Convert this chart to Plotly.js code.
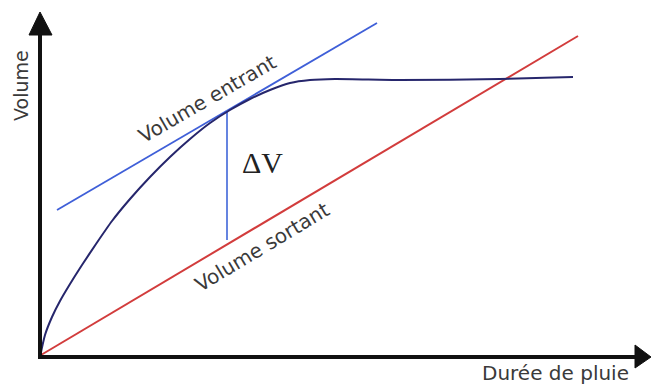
<!DOCTYPE html>
<html>
<head>
<meta charset="utf-8">
<script src="https://cdn.plot.ly/plotly-3.0.1.min.js"></script>
<style>html,body{margin:0;padding:0;background:#fff;}#chart{width:651px;height:385px;}</style>
</head>
<body>
<div id="chart"></div>
<script>
// Durée de pluie (arbitrary units) and volumes
var dureeCourbe  = [0, 5, 12, 20, 30, 42, 56, 72, 90, 110, 130, 150, 170, 190, 210, 230, 250, 270, 295, 360, 460, 533];
var volumeCourbe = [0, 22, 40, 56, 73, 92, 113, 136, 158, 180, 200, 218, 234, 247, 258, 267, 274, 277, 278, 277, 278, 280];

var dureeSortant  = [1, 538];
var volumeSortant = [2, 321];

var dureeEntrant  = [17, 337];
var volumeEntrant = [147, 334];

var dureeDelta  = [187, 187];
var volumeDelta = [117, 247];

var labelY = "Volume";
var labelX = "Durée de pluie";
var labelEntrant = "Volume entrant";
var labelSortant = "Volume sortant";
var labelDelta = "ΔV";

var traces = [
  {x: dureeSortant, y: volumeSortant, mode: "lines", line: {color: "#d23c3c", width: 2}, hoverinfo: "skip"},
  {x: dureeEntrant, y: volumeEntrant, mode: "lines", line: {color: "#3f5fd8", width: 1.8}, hoverinfo: "skip"},
  {x: dureeDelta, y: volumeDelta, mode: "lines", line: {color: "#5577dd", width: 1.8}, hoverinfo: "skip"},
  {x: dureeCourbe, y: volumeCourbe, mode: "lines", line: {color: "#26266c", width: 2, shape: "spline", smoothing: 0.6}, hoverinfo: "skip"}
];

var lab = {family: "DejaVu Sans, sans-serif", size: 20, color: "#3a3a3a"};

var layout = {
  width: 651, height: 385,
  margin: {l: 0, r: 0, t: 0, b: 0, pad: 0},
  paper_bgcolor: "#ffffff", plot_bgcolor: "#ffffff",
  showlegend: false,
  xaxis: {range: [-40, 611], visible: false, fixedrange: true},
  yaxis: {range: [-28, 357], visible: false, fixedrange: true},
  shapes: [
    {type: "line", xref: "x", yref: "y", x0: 0, y0: -2, x1: 0, y1: 324, line: {color: "#111", width: 4}},
    {type: "line", xref: "x", yref: "y", x0: -2, y0: 0, x1: 597, y1: 0, line: {color: "#111", width: 4}},
    {type: "path", xref: "x", yref: "y", path: "M -11,322 L 0,345 L 12,322 Z", fillcolor: "#111", line: {color: "#111", width: 1}},
    {type: "path", xref: "x", yref: "y", path: "M 595,12 L 611,0 L 595,-11 Z", fillcolor: "#111", line: {color: "#111", width: 1}}
  ],
  annotations: [
    {x: -19, y: 271, xref: "x", yref: "y", text: labelY, showarrow: false, textangle: -90, font: {family: "DejaVu Sans, sans-serif", size: 19, color: "#3a3a3a"}},
    {x: 515, y: -16, xref: "x", yref: "y", text: labelX, showarrow: false, font: lab},
    {x: 167, y: 258, xref: "x", yref: "y", text: labelEntrant, showarrow: false, textangle: -30, font: lab},
    {x: 222, y: 110, xref: "x", yref: "y", text: labelSortant, showarrow: false, textangle: -31, font: lab},
    {x: 222, y: 195, xref: "x", yref: "y", text: labelDelta, showarrow: false, font: {family: "Liberation Serif, Times New Roman, serif", size: 30, color: "#222"}}
  ]
};

Plotly.newPlot("chart", traces, layout, {staticPlot: true, displayModeBar: false});
</script>
</body>
</html>
